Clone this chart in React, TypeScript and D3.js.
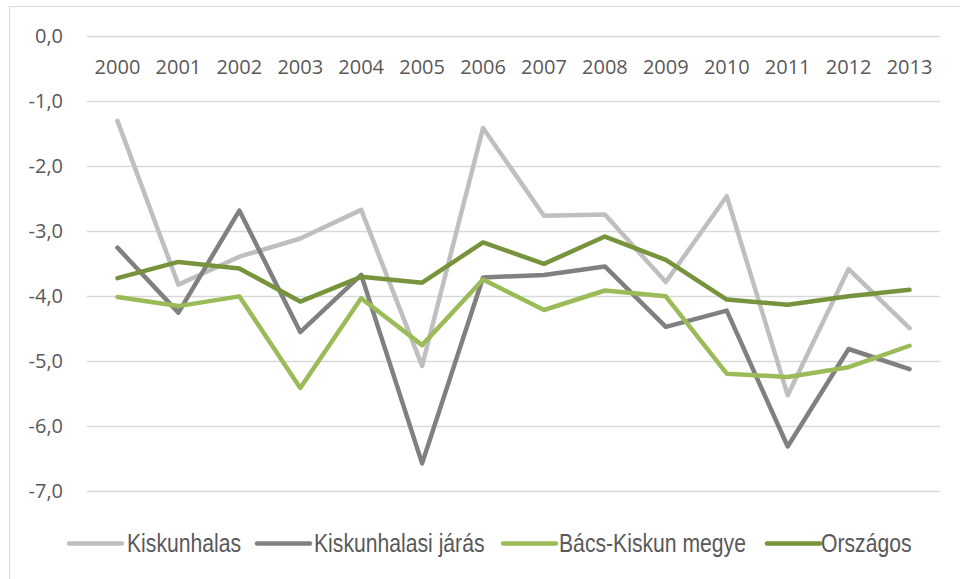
import React from "react";
import * as d3 from "d3";

const years = ["2000","2001","2002","2003","2004","2005","2006","2007","2008","2009","2010","2011","2012","2013"];
const kiskunhalas = [-1.31,-3.83,-3.40,-3.12,-2.68,-5.08,-1.42,-2.77,-2.75,-3.79,-2.47,-5.53,-3.59,-4.50];
const kiskunhalasiJaras = [-3.26,-4.26,-2.69,-4.56,-3.68,-6.58,-3.72,-3.68,-3.55,-4.48,-4.23,-6.32,-4.82,-5.13];
const bacsKiskun = [-4.02,-4.16,-4.01,-5.42,-4.04,-4.76,-3.75,-4.22,-3.92,-4.01,-5.20,-5.25,-5.10,-4.77];
const orszagos = [-3.73,-3.48,-3.58,-4.09,-3.71,-3.80,-3.18,-3.51,-3.09,-3.45,-4.06,-4.14,-4.01,-3.91];
const yTicks = [0,-1,-2,-3,-4,-5,-6,-7];

const series = [
  { name: "Kiskunhalas", values: kiskunhalas, color: "#BFBFBF" },
  { name: "Kiskunhalasi járás", values: kiskunhalasiJaras, color: "#808080" },
  { name: "Bács-Kiskun megye", values: bacsKiskun, color: "#9BBB59" },
  { name: "Országos", values: orszagos, color: "#77933C" },
];

const legendPos = [
  { lx: 69, tx: 127 },
  { lx: 257, tx: 314 },
  { lx: 503, tx: 559 },
  { lx: 767, tx: 821 },
];

export default function App() {
  const W = 960, H = 579;
  const x = d3.scaleBand<string>().domain(years).range([87, 940]);
  const y = d3.scaleLinear().domain([0, -7]).range([35.7, 490.7]);
  const line = d3.line<number>()
    .x((_, i) => (x(years[i]) as number) + x.bandwidth() / 2)
    .y((d) => y(d));
  const fnt = "'Open Sans', Calibri, sans-serif";
  return (
    <svg width={W} height={H} style={{ position: "absolute", left: 0, top: 0 }}>
      <rect x={0} y={0} width={W} height={H} fill="#fff" />
      <rect x={9.5} y={6.5} width={W} height={H} fill="none" stroke="#D9D9D9" strokeWidth={1} />
      {yTicks.map((t) => (
        <g key={t}>
          <line x1={87} x2={940} y1={Math.round(y(t)) + 0.5} y2={Math.round(y(t)) + 0.5} stroke="#D9D9D9" strokeWidth={1.3} />
          <text x={63} y={y(t)} dy="0.35em" textAnchor="end" fontFamily={fnt} fontSize={20} fill="#595959">
            {d3.format(".1f")(t).replace(".", ",").replace("−", "-")}
          </text>
        </g>
      ))}
      {years.map((yr) => (
        <text key={yr} x={(x(yr) as number) + x.bandwidth() / 2} y={74} textAnchor="middle" fontFamily={fnt} fontSize={20} fill="#595959">
          {yr}
        </text>
      ))}
      {series.map((s) => (
        <path key={s.name} d={line(s.values) || ""} fill="none" stroke={s.color} strokeWidth={4.5} strokeLinejoin="round" strokeLinecap="round" />
      ))}
      {series.map((s, i) => (
        <g key={s.name}>
          <line x1={legendPos[i].lx} x2={legendPos[i].lx + 53} y1={543.5} y2={543.5} stroke={s.color} strokeWidth={4.5} strokeLinecap="round" />
          <text transform={`translate(${legendPos[i].tx},551.5) scale(0.83,1)`} fontFamily="'Liberation Sans', Arial, sans-serif" fontSize={25.5} fill="#595959">
            {s.name}
          </text>
        </g>
      ))}
    </svg>
  );
}
